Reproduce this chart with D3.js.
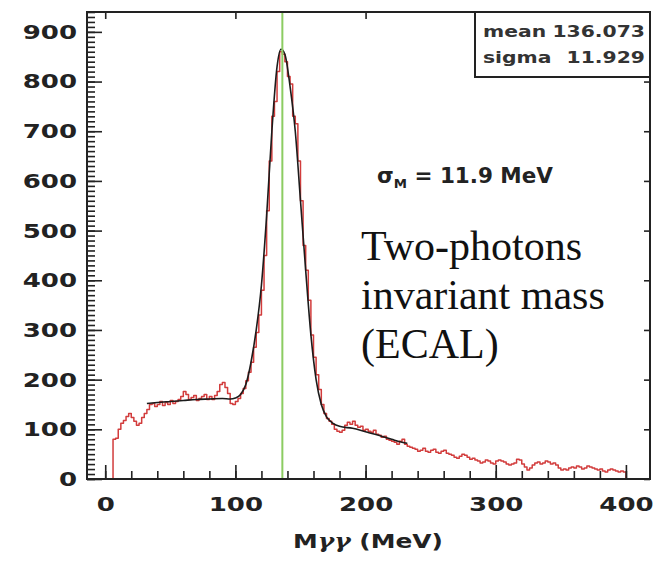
<!DOCTYPE html>
<html>
<head>
<meta charset="utf-8">
<script src="https://cdn.jsdelivr.net/npm/d3@7"></script>
<style>
body{margin:0;background:#fff;}
svg{display:block;}
</style>
</head>
<body>
<svg id="chart" width="654" height="562"></svg>
<script>
// ---- data: two-photon invariant mass histogram (2 MeV bins, first bin starts at 6 MeV)
var HIST_START = 6, BIN_WIDTH = 2;
var histCounts = [
  80,82,100,112,118,126,132,124,116,108,112,124,132,140,150,                                  // 6-34
  152,146,150,156,148,154,150,158,152,156,160,166,176,170,160,164,
  168,158,162,166,170,160,166,160,168,176,190,194,184,172,152,150,                            // 36-98
  156,162,172,182,198,215,235,265,295,330,380,450,540,640,730,760,                            // 100-130
  820,860,855,840,810,795,730,715,640,560,470,420,360,290,245,210,180,150,132,122,            // 132-170
  116,110,100,96,94,98,108,114,110,116,108,104,106,98,100,96,94,98,90,88,
  84,86,80,78,76,74,70,76,80,70,                                                              // 172-230
  66,64,62,60,56,58,62,56,54,58,60,54,52,56,58,52,50,48,44,42,
  46,50,48,44,40,42,38,36,32,34,38,36,32,30,36,                                               // 232-300
  38,36,34,30,28,30,32,40,38,30,24,18,22,28,32,34,30,32,36,34,
  30,32,28,22,18,20,18,22,24,22,26,24,20,22,26,24,22,20,18,20,
  16,14,18,20,18,16,14,16,14                                                                  // 302-398
];

// fit curve (gaussian + background)
var fitMass   = [32,40,50,60,70,80,90,96,100,104,108,112,116,120,124,128,132,135,138,142,146,150,154,158,162,166,170,175,180,190,200,210,220,228,232];
var fitCounts = [152,154,156,158,160,161,162,161,163,170,190,235,300,390,530,700,830,865,855,790,700,560,420,290,200,150,125,112,106,102,95,88,80,74,72];

var xTicks = [0,100,200,300,400];
var yTicks = [0,100,200,300,400,500,600,700,800,900];
var FIT_MEAN = 136.073;

var statLabels = ["mean","sigma"];
var statValues = ["136.073","11.929"];
var noteLines = ["Two-photons","invariant mass","(ECAL)"];

// ---- layout
var svg = d3.select("#chart");
var LEFT = 87, RIGHT = 650, TOP = 12, BOTTOM = 479;
var STRETCH = 1.3; // the source picture is stretched horizontally

var x = d3.scaleLinear().domain([-14,418.5]).range([LEFT,RIGHT]);
var y = d3.scaleLinear().domain([0,940]).range([BOTTOM,TOP]);

function stretchText(sel, k){
  sel.each(function(){
    var w = this.getComputedTextLength();
    d3.select(this).attr("textLength", w*k).attr("lengthAdjust","spacingAndGlyphs");
  });
}

// histogram (step line)
var pts = [[x(HIST_START), y(0)]];
histCounts.forEach(function(c,i){
  var e = HIST_START + i*BIN_WIDTH;
  pts.push([x(e), y(c)]);
  pts.push([x(e+BIN_WIDTH), y(c)]);
});
pts.push([x(HIST_START + histCounts.length*BIN_WIDTH), y(0)]);

svg.append("path")
  .attr("d", d3.line()(pts))
  .attr("fill","none")
  .attr("stroke","#d23c3c")
  .attr("stroke-width",1.5)
  .attr("stroke-linejoin","round");

// fit
svg.append("path")
  .datum(d3.zip(fitMass, fitCounts))
  .attr("d", d3.line().x(function(d){return x(d[0]);}).y(function(d){return y(d[1]);}).curve(d3.curveMonotoneX))
  .attr("fill","none")
  .attr("stroke","#1c1c1c")
  .attr("stroke-width",1.6);

// mean marker
svg.append("line")
  .attr("x1",x(FIT_MEAN)).attr("x2",x(FIT_MEAN))
  .attr("y1",TOP).attr("y2",BOTTOM)
  .attr("stroke","#8ccc62").attr("stroke-width",2);

// ---- axes
function styleAxis(g){
  g.select(".domain").remove();
  g.selectAll(".tick line").attr("stroke","#222").attr("stroke-width",1.6);
  g.selectAll("text").attr("font-family","'DejaVu Sans'").attr("font-weight","bold")
    .attr("font-size",20).attr("fill","#222");
}

svg.append("g").attr("transform","translate("+LEFT+",0)")
  .call(d3.axisLeft(y).tickValues(d3.range(0,941,10)).tickSize(-8).tickFormat(""))
  .call(styleAxis);
var gy = svg.append("g").attr("transform","translate("+LEFT+",0)")
  .call(d3.axisLeft(y).tickValues(yTicks).tickSize(-15).tickPadding(10))
  .call(styleAxis);
stretchText(gy.selectAll("text"), STRETCH);

svg.append("g").attr("transform","translate(0,"+BOTTOM+")")
  .call(d3.axisBottom(x).tickValues(d3.range(0,401,20)).tickSize(-8).tickFormat(""))
  .call(styleAxis);
var gx = svg.append("g").attr("transform","translate(0,"+BOTTOM+")")
  .call(d3.axisBottom(x).tickValues(xTicks).tickSize(-14).tickPadding(18))
  .call(styleAxis);
stretchText(gx.selectAll("text"), STRETCH);

svg.append("g").attr("transform","translate(0,"+TOP+")")
  .call(d3.axisTop(x).tickValues(xTicks).tickSize(-7).tickFormat(""))
  .call(styleAxis);
svg.append("g").attr("transform","translate("+RIGHT+",0)")
  .call(d3.axisRight(y).tickValues(yTicks).tickSize(-6).tickFormat(""))
  .call(styleAxis);

// frame
svg.append("rect")
  .attr("x",LEFT).attr("y",TOP).attr("width",RIGHT-LEFT).attr("height",BOTTOM-TOP)
  .attr("fill","none").attr("stroke","#222").attr("stroke-width",2);

// x title
var gt = svg.append("g").attr("transform","translate(368,548)");
var tt = gt.append("text").attr("text-anchor","middle")
  .attr("font-family","'DejaVu Sans'").attr("font-weight","bold").attr("font-size",20).attr("fill","#222");
tt.append("tspan").text("M");
tt.append("tspan").attr("font-family","'DejaVu Serif'").attr("font-style","italic").text("γγ");
tt.append("tspan").text(" (MeV)");
gt.attr("transform","translate(368,548) scale("+(150/tt.node().getComputedTextLength())+",1)");

// ---- stat box
var box = svg.append("g");
box.append("rect").attr("x",475).attr("y",TOP).attr("width",RIGHT-475).attr("height",65)
  .attr("fill","#fff").attr("stroke","#222").attr("stroke-width",2);
statLabels.forEach(function(s,i){
  var by = 37 + i*26;
  var t1 = box.append("text").attr("x",483).attr("y",by).text(s);
  var t2 = box.append("text").attr("x",645).attr("y",by).attr("text-anchor","end").text(statValues[i]);
  [t1,t2].forEach(function(t){
    t.attr("font-family","'DejaVu Sans'").attr("font-weight","bold").attr("font-size",16).attr("fill","#333");
    stretchText(t, 1.27);
  });
});

// ---- sigma note
var gs = svg.append("g").attr("transform","translate(377,183)");
var st = gs.append("text").attr("font-family","'DejaVu Sans'").attr("font-weight","bold")
  .attr("font-size",21).attr("fill","#222");
st.append("tspan").text("σ");
st.append("tspan").attr("font-size",13).attr("dy",5).text("M");
st.append("tspan").attr("dy",-5).text(" = 11.9 MeV");
gs.attr("transform","translate(377,183) scale("+(176/st.node().getComputedTextLength())+",1)");

// ---- annotation
noteLines.forEach(function(s,i){
  svg.append("text").attr("x",361).attr("y",260+i*49)
    .attr("font-family","'Liberation Serif', 'Times New Roman', serif")
    .attr("font-size",42).attr("fill","#111").text(s);
});
</script>
</body>
</html>
